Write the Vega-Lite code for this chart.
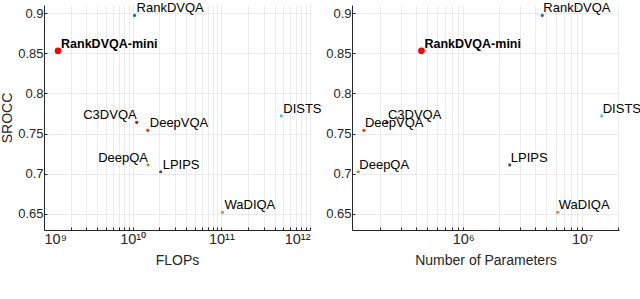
{
  "$schema": "https://vega.github.io/schema/vega-lite/v6.json",
  "padding": {"left": 0, "top": 2, "right": 0, "bottom": 5},
  "config": {
    "view": {"stroke": null},
    "font": "Liberation Sans",
    "axis": {
      "labelFont": "Liberation Sans", "titleFont": "Liberation Sans",
      "labelFontSize": 13, "titleFontSize": 14, "titleFontWeight": "normal",
      "labelColor": "#262626", "titleColor": "#262626",
      "domainColor": "#262626", "tickColor": "#262626",
      "gridColor": "#e6e6e6", "gridWidth": 0.8
    }
  },
  "datasets": {
    "flops": [
      {"model": "RankDVQA", "x": 1.05e10, "srocc": 0.897},
      {"model": "RankDVQA-mini", "x": 1.44e9, "srocc": 0.853},
      {"model": "C3DVQA", "x": 1.11e10, "srocc": 0.764},
      {"model": "DeepVQA", "x": 1.48e10, "srocc": 0.754},
      {"model": "DISTS", "x": 4.74e11, "srocc": 0.772},
      {"model": "DeepQA", "x": 1.49e10, "srocc": 0.711},
      {"model": "LPIPS", "x": 2.07e10, "srocc": 0.7025},
      {"model": "WaDIQA", "x": 1.03e11, "srocc": 0.652}
    ],
    "params": [
      {"model": "RankDVQA", "x": 4.62e6, "srocc": 0.897},
      {"model": "RankDVQA-mini", "x": 4.45e5, "srocc": 0.853},
      {"model": "C3DVQA", "x": 2.28e5, "srocc": 0.764},
      {"model": "DeepVQA", "x": 1.46e5, "srocc": 0.754},
      {"model": "DISTS", "x": 1.46e7, "srocc": 0.772},
      {"model": "DeepQA", "x": 1.31e5, "srocc": 0.7025},
      {"model": "LPIPS", "x": 2.46e6, "srocc": 0.711},
      {"model": "WaDIQA", "x": 6.24e6, "srocc": 0.652}
    ]
  },
  "hconcat": [
    {
      "width": 266, "height": 225,
      "data": {"name": "flops"},
      "encoding": {
        "x": {"field": "x", "type": "quantitative",
          "scale": {"type": "log", "domain": [1e9, 1e12], "nice": false},
          "axis": {"title": "FLOPs", "grid": true, "tickSize": -3, "labelPadding": 5, "titlePadding": 8, "labelFontSize": 14.5,
            "values": [1e9,2e9,3e9,4e9,5e9,6e9,7e9,8e9,9e9,1e10,2e10,3e10,4e10,5e10,6e10,7e10,8e10,9e10,1e11,2e11,3e11,4e11,5e11,6e11,7e11,8e11,9e11,1e12],
            "labelExpr": "datum.value==1e9?'10⁹':datum.value==1e10?'10¹⁰':datum.value==1e11?'10¹¹':datum.value==1e12?'10¹²':''",
            "labelOverlap": false}},
        "y": {"field": "srocc", "type": "quantitative",
          "scale": {"domain": [0.63, 0.91], "nice": false, "zero": false},
          "axis": {"title": "SROCC", "grid": true, "tickSize": -3, "labelPadding": 4, "titlePadding": 3,
            "values": [0.65, 0.7, 0.75, 0.8, 0.85, 0.9], "format": ".2~f"}}
      },
      "layer": [
        {"transform": [{"filter": "datum.model != 'RankDVQA-mini'"}],
         "mark": {"type": "circle", "size": 10, "opacity": 1},
         "encoding": {"color": {"field": "model", "type": "nominal", "legend": null,
           "scale": {"domain": ["RankDVQA","RankDVQA-mini","C3DVQA","DeepVQA","DISTS","DeepQA","LPIPS","WaDIQA"],
                     "range": ["#0072BD","#FF0000","#A2142F","#FF3300","#4DBEEE","#77AC30","#4D4D4D","#F08040"]}}}},
        {"transform": [{"filter": "datum.model == 'RankDVQA-mini'"}],
         "mark": {"type": "circle", "size": 45, "opacity": 1, "color": "#FF0000"}},
        {"transform": [{"filter": "datum.model != 'RankDVQA-mini' && datum.model != 'C3DVQA' && datum.model != 'DeepQA'"}],
         "mark": {"type": "text", "align": "left", "baseline": "middle", "dx": 2, "dy": -7, "fontSize": 13, "color": "#000000"},
         "encoding": {"text": {"field": "model"}}},
        {"transform": [{"filter": "datum.model == 'C3DVQA' || datum.model == 'DeepQA'"}],
         "mark": {"type": "text", "align": "right", "baseline": "middle", "dx": 0, "dy": -7, "fontSize": 13, "color": "#000000"},
         "encoding": {"text": {"field": "model"}}},
        {"transform": [{"filter": "datum.model == 'RankDVQA-mini'"}],
         "mark": {"type": "text", "align": "left", "baseline": "middle", "dx": 3, "dy": -7, "fontSize": 12.5, "fontWeight": "bold", "color": "#000000"},
         "encoding": {"text": {"field": "model"}}}
      ]
    },
    {
      "width": 267, "height": 225,
      "data": {"name": "params"},
      "encoding": {
        "x": {"field": "x", "type": "quantitative",
          "scale": {"type": "log", "domain": [1.16e5, 2.04e7], "nice": false},
          "axis": {"title": "Number of Parameters", "grid": true, "tickSize": -3, "labelPadding": 5, "titlePadding": 8, "labelFontSize": 14.5,
            "values": [2e5,3e5,4e5,5e5,6e5,7e5,8e5,9e5,1e6,2e6,3e6,4e6,5e6,6e6,7e6,8e6,9e6,1e7,2e7],
            "labelExpr": "datum.value==1e6?'10⁶':datum.value==1e7?'10⁷':''",
            "labelOverlap": false}},
        "y": {"field": "srocc", "type": "quantitative",
          "scale": {"domain": [0.63, 0.91], "nice": false, "zero": false},
          "axis": {"title": null, "grid": true, "tickSize": -3, "labelPadding": 4,
            "values": [0.65, 0.7, 0.75, 0.8, 0.85, 0.9], "format": ".2~f"}}
      },
      "layer": [
        {"transform": [{"filter": "datum.model != 'RankDVQA-mini'"}],
         "mark": {"type": "circle", "size": 10, "opacity": 1},
         "encoding": {"color": {"field": "model", "type": "nominal", "legend": null}}},
        {"transform": [{"filter": "datum.model == 'RankDVQA-mini'"}],
         "mark": {"type": "circle", "size": 45, "opacity": 1, "color": "#FF0000"}},
        {"transform": [{"filter": "datum.model != 'RankDVQA-mini'"}],
         "mark": {"type": "text", "align": "left", "baseline": "middle", "dx": 1, "dy": -7, "fontSize": 13, "color": "#000000"},
         "encoding": {"text": {"field": "model"}}},
        {"transform": [{"filter": "datum.model == 'RankDVQA-mini'"}],
         "mark": {"type": "text", "align": "left", "baseline": "middle", "dx": 3, "dy": -7, "fontSize": 12.5, "fontWeight": "bold", "color": "#000000"},
         "encoding": {"text": {"field": "model"}}}
      ]
    }
  ],
  "spacing": 42,
  "bounds": "flush"
}
